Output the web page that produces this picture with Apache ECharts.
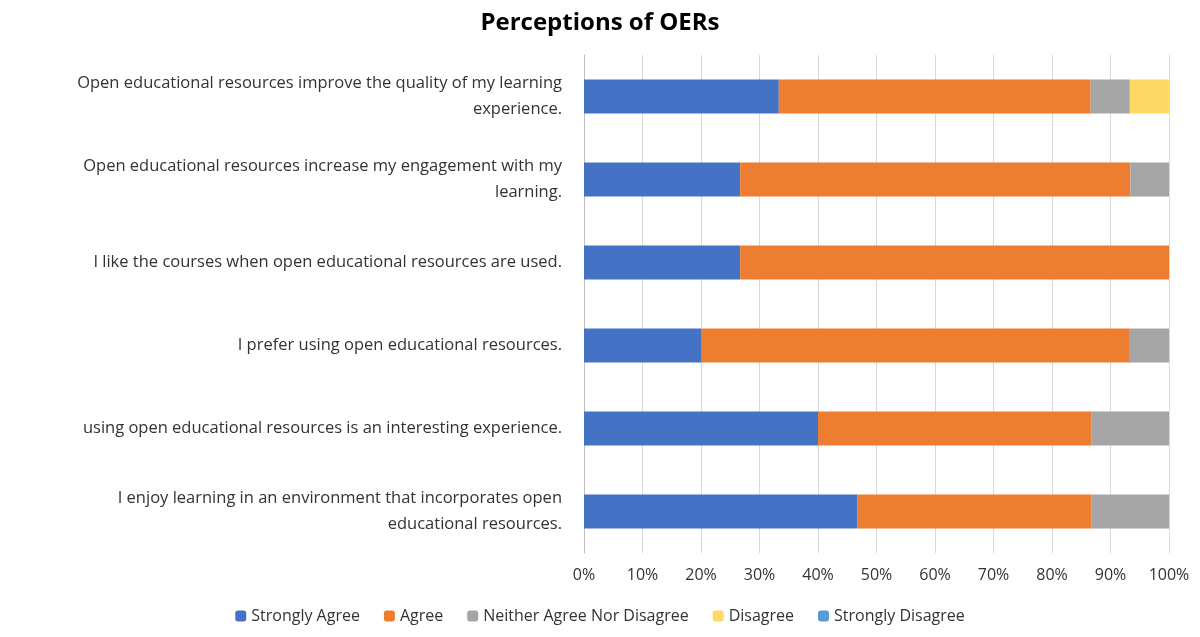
<!DOCTYPE html>
<html>
<head>
<meta charset="utf-8">
<script src="https://cdn.jsdelivr.net/npm/echarts@6/dist/echarts.min.js"></script>
<style>html,body{margin:0;padding:0;background:#fff}#chart{width:1200px;height:637px}</style>
</head>
<body>
<div id="chart"></div>
<script>
// statements, top to bottom
var statements = [
    'Open educational resources improve the quality of my learning\nexperience.',
    'Open educational resources increase my engagement with my\nlearning.',
    'I like the courses when open educational resources are used.',
    'I prefer using open educational resources.',
    'using open educational resources is an interesting experience.',
    'I enjoy learning in an environment that incorporates open\neducational resources.'
];
var strongly_agree = [33.3, 26.7, 26.7, 20.0, 40.0, 46.7];
var agree = [53.3, 66.7, 73.3, 73.3, 46.7, 40.0];
var neither = [6.7, 6.6, 0, 6.7, 13.3, 13.3];
var disagree = [6.7, 0, 0, 0, 0, 0];
var strongly_disagree = [0, 0, 0, 0, 0, 0];

var font = 'Open Sans';
var chart = echarts.init(document.getElementById('chart'));

function bar(name, data, color) {
    return {name: name, type: 'bar', stack: 'all', data: data, barWidth: 34,
        itemStyle: {color: color}};
}

chart.setOption({
    animation: false,
    textStyle: {fontFamily: font},
    title: {text: 'Perceptions of OERs', left: 'center', top: 6,
        textStyle: {fontSize: 24, fontWeight: 'bold', color: '#000', fontFamily: font}},
    legend: {bottom: 8, left: 'center', itemWidth: 11, itemHeight: 11, itemGap: 24,
        textStyle: {fontSize: 16, color: '#333'},
        data: ['Strongly Agree', 'Agree', 'Neither Agree Nor Disagree', 'Disagree', 'Strongly Disagree']},
    grid: {left: 584, right: 31, top: 55, bottom: 84},
    xAxis: {type: 'value', min: 0, max: 100, interval: 10,
        axisLabel: {formatter: '{value}%', fontSize: 16, color: '#333', margin: 14},
        splitLine: {lineStyle: {color: '#d9d9d9'}},
        axisLine: {show: false}, axisTick: {show: false}},
    yAxis: {type: 'category', inverse: true, data: statements,
        axisLine: {lineStyle: {color: '#bfbfbf'}}, axisTick: {show: false},
        axisLabel: {fontSize: 16.5, color: '#333', margin: 22, lineHeight: 26, align: 'right'}},
    series: [
        bar('Strongly Agree', strongly_agree, '#4472C4'),
        bar('Agree', agree, '#ED7D31'),
        bar('Neither Agree Nor Disagree', neither, '#A5A5A5'),
        bar('Disagree', disagree, '#FFD966'),
        bar('Strongly Disagree', strongly_disagree, '#5B9BD5')
    ]
});
</script>
</body>
</html>
